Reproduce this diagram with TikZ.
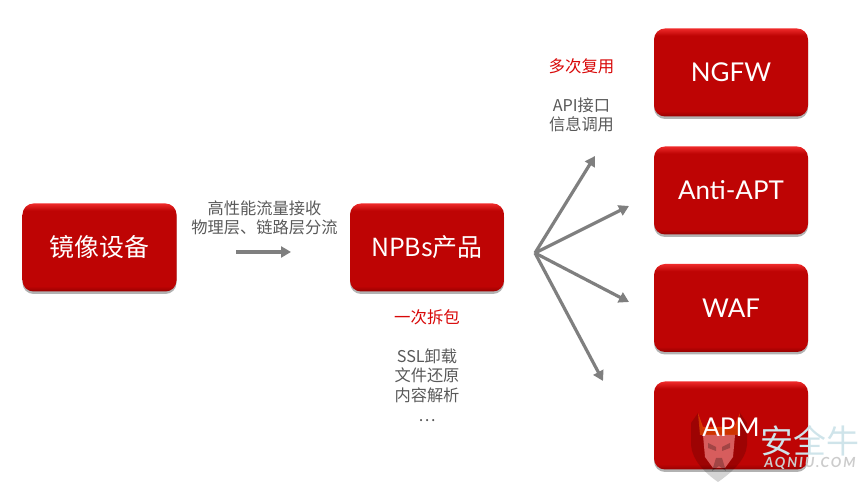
\documentclass[tikz,border=0pt]{standalone}
\usepackage{fontspec}
\setmainfont{Lato}
\newfontfamily\cjk{Noto Sans CJK SC}
\usepackage{xcolor}
\usetikzlibrary{arrows.meta,shadows,positioning}
\definecolor{boxred}{HTML}{BE0404}
\definecolor{boxtop}{HTML}{EE2A2A}
\definecolor{boxlow}{HTML}{960000}
\definecolor{labelgray}{HTML}{595959}
\definecolor{arrowgray}{HTML}{7F7F7F}
\definecolor{headred}{HTML}{D80808}
\definecolor{markblue}{HTML}{CFE4EA}
\definecolor{markgray}{HTML}{CCCCCC}
\pgfdeclareverticalshading{boxshade}{100bp}{
  color(0bp)=(boxlow); color(25bp)=(boxlow); color(28bp)=(boxred);
  color(71bp)=(boxred); color(75bp)=(boxtop); color(100bp)=(boxtop)}
\tikzset{
  redbox/.style={rounded corners=11bp, shading=boxshade, minimum width=154bp, minimum height=88bp,
    inner sep=0pt, text=white, font=\cjk\fontsize{25}{28}\selectfont,
    drop shadow={shadow xshift=0bp, shadow yshift=-2.5bp, fill=black, opacity=.3}},
  latinbox/.style={redbox, font=\fontsize{26}{28}\selectfont},
  grayarrow/.style={draw=arrowgray, line width=3.2bp, -{Triangle[length=10bp,width=11bp]}},
  graytext/.style={text=labelgray, align=center, font=\cjk\fontsize{16.3}{19.6}\selectfont, inner sep=0pt},
  redtext/.style={text=headred, font=\cjk\fontsize{16.5}{19}\selectfont, inner sep=0pt},
}
\begin{document}
\begin{tikzpicture}[x=1bp,y=1bp]
\useasboundingbox (0,0) rectangle (864,485);
\node[redbox] (mirror) at (99.5,237.5) {镜像设备};
\node[redbox] (npb) at (427,237.5) {NPBs产品};
\node[latinbox] (ngfw) at (731,412.5) {NGFW};
\node[latinbox] (apt) at (731,294.5) {Anti-APT};
\node[latinbox] (waf) at (731,177) {WAF};
\node[latinbox] (apm) at (731,59.5) {};
% labels
\node[graytext] (recv) at (264.5,267) {高性能流量接收\\物理层、链路层分流};
\node[redtext] (once) at (427,168) {一次拆包};
\node[graytext] (ssl) at (427,100) {SSL卸载\\文件还原\\内容解析\\…};
\node[redtext] (multi) at (581.5,419) {多次复用};
\node[graytext] (api) at (581.5,370) {API接口\\信息调用};
% arrows
\coordinate (inA) at (236,233);
\coordinate (inB) at (291,233);
\coordinate (hub) at (535,232);
\coordinate (outA) at (595,329);
\coordinate (outB) at (629,279);
\coordinate (outC) at (629,183);
\coordinate (outD) at (603,104);
\draw[grayarrow] (inA) -- (inB);
\foreach \o in {outA,outB,outC,outD}
  \draw[grayarrow] (hub) -- (\o);
% watermark
\fill[black,opacity=.17] (691,62) -- (691,40) .. controls (692,25) and (705,12) .. (718,3)
  .. controls (731,12) and (746,25) .. (747,40) -- (747,62) -- (740,72) -- (736,56) -- (702,56) -- (698,72) -- cycle;
\fill[orange!80!red,opacity=.5] (698,72) -- (703,58) -- (734,58) -- (740,72) -- (738,50) -- (700,50) -- cycle;
\fill[red!40!white,opacity=.6] (703,50) -- (735,50) -- (733,28) -- (725,17) -- (713,17) -- (705,28) -- cycle;
\fill[black,opacity=.25] (708,42) -- (716,38) -- (716,34) -- (708,37) -- cycle
  (730,42) -- (722,38) -- (722,34) -- (730,37) -- cycle (716,27) -- (722,27) -- (726,14) -- (719,19) -- (712,14) -- cycle;
\node[text=markblue, font=\cjk\fontsize{33}{36}\selectfont, inner sep=0pt] (markcn) at (810,44) {安全牛};
\node[text=markgray, font=\bfseries\itshape\fontsize{14}{16}\addfontfeatures{LetterSpace=13}\selectfont, inner sep=0pt] (markurl) at (810,22) {AQNIU.COM};
\node[text=white, font=\fontsize{26}{28}\selectfont, inner sep=0pt] (apmtext) at (731,58) {APM};
\end{tikzpicture}
\end{document}
